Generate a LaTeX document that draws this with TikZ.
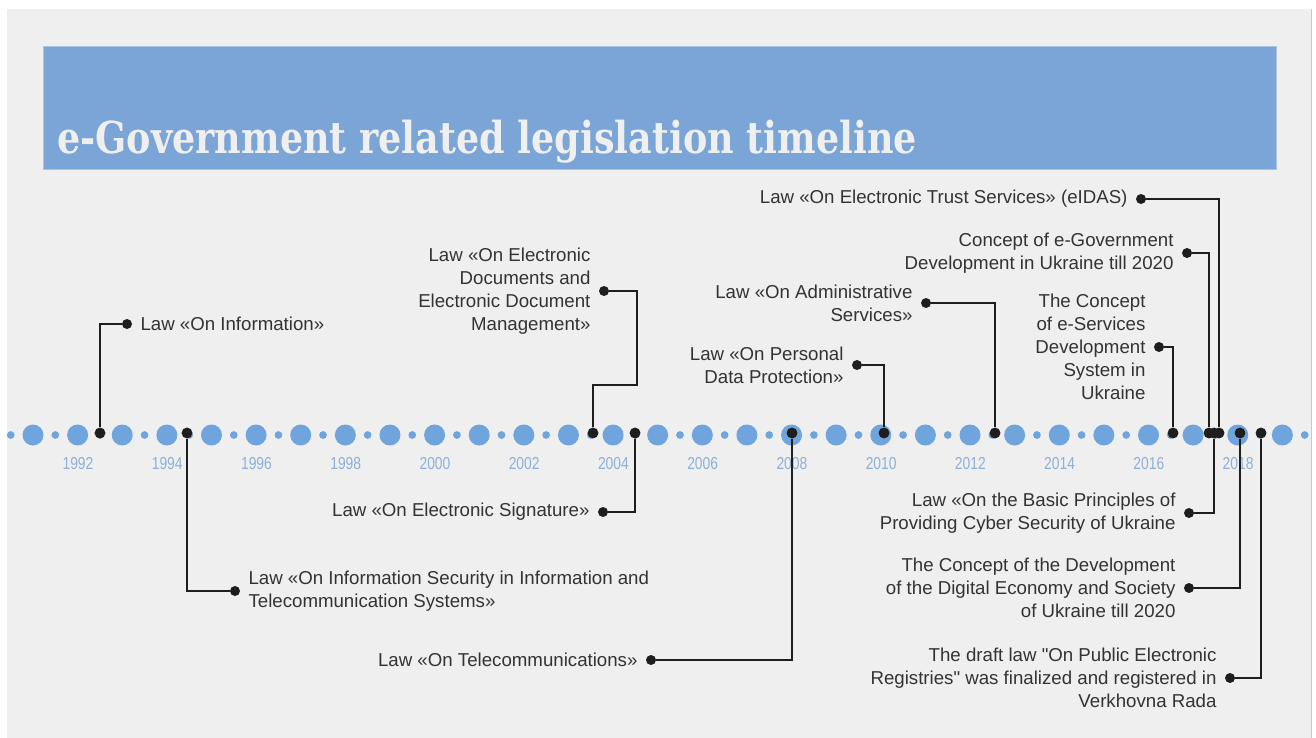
\documentclass[tikz,border=0pt]{standalone}
\usepackage{fontspec}
\setmainfont{Liberation Sans}
\newfontfamily\titlefont[FakeStretch=0.83]{DejaVu Serif}
\newfontfamily\yearfont[FakeStretch=0.8]{Liberation Sans}
\usepackage{xcolor}
\usetikzlibrary{positioning}

\definecolor{panelgray}{HTML}{EFEFEF}
\definecolor{bordergray}{HTML}{C8C8C8}
\definecolor{barblue}{HTML}{7AA5D6}
\definecolor{barline}{HTML}{A9C3E3}
\definecolor{dotblue}{HTML}{6FA5DC}
\definecolor{yearblue}{HTML}{8DB0D8}
\definecolor{inkgray}{HTML}{333333}
\definecolor{linegray}{HTML}{1E1E1E}

% straight double quote, kept out of the TeX ligature mapping
\newcommand\sq{\XeTeXglyph\XeTeXcharglyph34\relax}

\tikzset{
  bigdot/.style={circle, fill=dotblue, inner sep=0pt, minimum size=15.75pt},
  smalldot/.style={circle, fill=dotblue, inner sep=0pt, minimum size=5.8pt},
  evdot/.style={circle, fill=linegray, inner sep=0pt, minimum size=8.2pt},
  enddot/.style={circle, fill=linegray, inner sep=0pt, minimum size=7.5pt},
  lawtext/.style={text=inkgray, font=\fontsize{14}{17.25}\selectfont, inner sep=0pt},
  link/.style={draw=linegray, line width=1.9pt}
}

\begin{document}
\begin{tikzpicture}[x=0.75pt, y=-0.75pt]
  \useasboundingbox (0,0) rectangle (1316,738);
  \fill[white] (0,0) rectangle (1316,738);
  \fill[panelgray] (7,9) rectangle (1311,738);
  \draw[bordergray, line width=0.75pt] (1311,9) -- (1311,738);

  % title bar
  \filldraw[fill=barblue, draw=barline, line width=0.75pt] (43,47) rectangle (1276,170);
  \draw (57,153) node[anchor=base west, inner sep=0pt, text=panelgray,
        font=\titlefont\bfseries\fontsize{33}{40}\selectfont] (title)
        {e-Government related legislation timeline};

  % the time axis
  \foreach \i in {0,...,29}
    \draw (10.7+\i*44.62,435) node[smalldot] {};
  \foreach \i in {0,...,28}
    \draw (33+\i*44.62,435) node[bigdot] {};
  \foreach \yr [count=\i from 0] in {1992,1994,...,2018}
    \draw (78+\i*89.24,464) node[text=yearblue, font=\yearfont\fontsize{13}{15}\selectfont] {\yr};

  % events above and below the axis
  \draw (100,433) node[evdot] (info) {};
  \draw (127,324) node[enddot] (infoend) {};
  \node[lawtext, right=6pt of infoend] (infotext) {Law «On Information»};
  \draw[link] (info) |- (infoend);

  \draw (187,433) node[evdot] (infosec) {};
  \draw (235,591) node[enddot] (infosecend) {};
  \node[lawtext, align=left, right=6pt of infosecend] (infosectext)
    {Law «On Information Security in Information and\\Telecommunication Systems»};
  \draw[link] (infosec) |- (infosecend);

  \draw (593,433) node[evdot] (edocs) {};
  \draw (604,291) node[enddot] (edocsend) {};
  \coordinate (edocsbend) at (637,385);
  \node[lawtext, align=right, left=6pt of edocsend] (edocstext)
    {Law «On Electronic\\Documents and\\Electronic Document\\Management»};
  \draw[link] (edocs) |- (edocsbend) |- (edocsend);

  \draw (635,433) node[evdot] (esign) {};
  \draw (603,512) node[enddot] (esignend) {};
  \node[lawtext, left=6pt of esignend] (esigntext) {Law «On Electronic Signature»};
  \draw[link] (esign) |- (esignend);

  \draw (792,433) node[evdot] (telecom) {};
  \draw (651,660) node[enddot] (telecomend) {};
  \node[lawtext, left=6pt of telecomend] (telecomtext) {Law «On Telecommunications»};
  \draw[link] (telecom) |- (telecomend);

  \draw (884,433) node[evdot] (pdata) {};
  \draw (857,365) node[enddot] (pdataend) {};
  \node[lawtext, align=right, left=6pt of pdataend] (pdatatext)
    {Law «On Personal\\Data Protection»};
  \draw[link] (pdata) |- (pdataend);

  \draw (995,433) node[evdot] (admin) {};
  \draw (926,303) node[enddot] (adminend) {};
  \node[lawtext, align=right, left=6pt of adminend] (admintext)
    {Law «On Administrative\\Services»};
  \draw[link] (admin) |- (adminend);

  \draw (1173,433) node[evdot] (eserv) {};
  \draw (1159,347) node[enddot] (eservend) {};
  \node[lawtext, align=right, left=6pt of eservend] (eservtext)
    {The Concept\\of e-Services\\Development\\System in\\Ukraine};
  \draw[link] (eserv) |- (eservend);

  \draw (1209,433) node[evdot] (egov) {};
  \draw (1187,253) node[enddot] (egovend) {};
  \node[lawtext, align=right, left=6pt of egovend] (egovtext)
    {Concept of e-Government\\Development in Ukraine till 2020};
  \draw[link] (egov) |- (egovend);

  \draw (1219,433) node[evdot] (trust) {};
  \draw (1141,199) node[enddot] (trustend) {};
  \node[lawtext, left=6pt of trustend] (trusttext)
    {Law «On Electronic Trust Services» (eIDAS)};
  \draw[link] (trust) |- (trustend);

  \draw (1214,433) node[evdot] (cyber) {};
  \draw (1189,513) node[enddot] (cyberend) {};
  \node[lawtext, align=right, left=6pt of cyberend] (cybertext)
    {Law «On the Basic Principles of\\Providing Cyber Security of Ukraine};
  \draw[link] (cyber) |- (cyberend);

  \draw (1240,433) node[evdot] (digital) {};
  \draw (1189,588) node[enddot] (digitalend) {};
  \node[lawtext, align=right, left=6pt of digitalend] (digitaltext)
    {The Concept of the Development\\of the Digital Economy and Society\\of Ukraine till 2020};
  \draw[link] (digital) |- (digitalend);

  \draw (1261,433) node[evdot] (registry) {};
  \draw (1230,678) node[enddot] (registryend) {};
  \node[lawtext, align=right, left=6pt of registryend] (registrytext)
    {The draft law \sq On Public Electronic\\Registries\sq{} was finalized and registered in\\Verkhovna Rada};
  \draw[link] (registry) |- (registryend);
\end{tikzpicture}
\end{document}
